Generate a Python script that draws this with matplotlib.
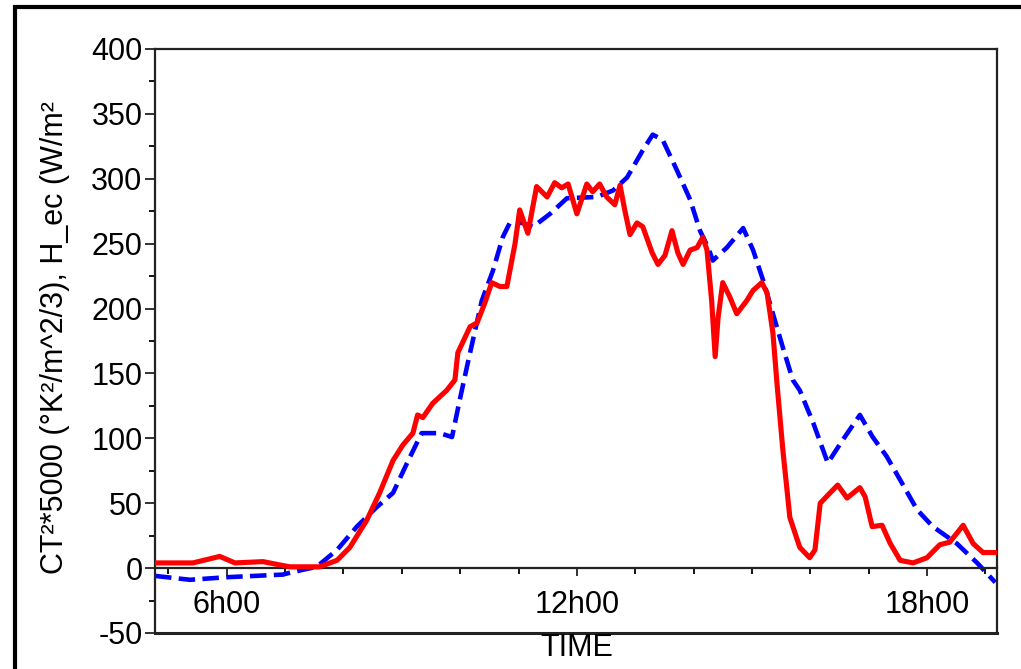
import numpy as np
import matplotlib
matplotlib.use("Agg")
import matplotlib.pyplot as plt
from matplotlib.patches import Rectangle
from matplotlib.ticker import MultipleLocator, FixedLocator

plt.rcParams['font.family'] = ['Liberation Sans', 'DejaVu Sans']
plt.rcParams['axes.unicode_minus'] = False

################### Data #####################
# time in hours, values in W/m2
ct2_time = [4.77, 5.42, 5.88, 6.14, 6.62, 6.96, 7.08, 7.59, 7.89, 8.11, 8.40, 8.62, 8.85, 9.02,
            9.19, 9.27, 9.36, 9.53, 9.77, 9.91, 9.96, 10.17, 10.29, 10.42, 10.54, 10.68, 10.80,
            10.94, 11.02, 11.16, 11.31, 11.49, 11.62, 11.74, 11.85, 12.00, 12.17, 12.27, 12.39,
            12.51, 12.65, 12.74, 12.82, 12.91, 13.03, 13.13, 13.29, 13.39, 13.51, 13.63, 13.73,
            13.82, 13.94, 14.06, 14.16, 14.23, 14.31, 14.37, 14.42, 14.50, 14.62, 14.74, 14.91,
            15.02, 15.17, 15.26, 15.36, 15.43, 15.53, 15.65, 15.82, 15.99, 16.08, 16.17, 16.34,
            16.47, 16.63, 16.85, 16.94, 17.06, 17.23, 17.37, 17.54, 17.76, 18.00, 18.22, 18.39,
            18.62, 18.79, 18.96, 19.17]
ct2_vals = [4, 4, 9, 4, 5, 2, 1, 1, 6, 16, 37, 58, 83, 95,
            104, 118, 116, 127, 137, 145, 166, 186, 189, 204, 220, 217, 217,
            250, 276, 258, 294, 286, 297, 293, 296, 273, 296, 290, 296,
            286, 280, 295, 276, 257, 266, 263, 243, 234, 241, 260, 243,
            234, 245, 247, 255, 245, 206, 163, 193, 220, 209, 196, 206,
            214, 220, 212, 181, 142, 91, 39, 16, 8, 14, 50, 58,
            64, 54, 62, 55, 32, 33, 19, 6, 4, 8, 18, 20,
            33, 19, 12, 12]

hec_time = [4.77, 5.37, 6.00, 6.96, 7.13, 7.54, 7.89, 8.23, 8.57, 8.85, 9.09, 9.34, 9.65, 9.86,
            9.99, 10.13, 10.25, 10.37, 10.56, 10.73, 10.85, 11.06, 11.25, 11.54, 11.83, 12.34,
            12.62, 12.86, 13.13, 13.30, 13.47, 13.71, 13.94, 14.11, 14.25, 14.33, 14.57, 14.85,
            15.02, 15.19, 15.36, 15.53, 15.70, 15.82, 16.05, 16.30, 16.56, 16.85, 17.07, 17.31,
            17.54, 17.83, 18.10, 18.51, 18.86, 19.17]
hec_vals = [-6, -9, -7, -5, -3, 1, 14, 32, 47, 58, 81, 104, 104, 101,
            129, 158, 182, 206, 229, 255, 266, 266, 263, 273, 285, 286,
            291, 301, 322, 334, 330, 307, 284, 260, 247, 237, 247, 262,
            245, 222, 196, 170, 145, 137, 112, 81, 99, 118, 101, 86,
            68, 45, 32, 19, 4, -11]

tick_hours = [6, 12, 18]
tick_labels = ['6h00', '12h00', '18h00']

################### Plot #####################
W, H = 1021, 669
fig = plt.figure(figsize=(W / 100, H / 100), dpi=100)
ax = fig.add_axes([155 / W, 1 - 633 / H, (997 - 155) / W, (633 - 49) / H])

ax.plot(ct2_time, ct2_vals, color='#ff0000', lw=3.7, solid_joinstyle='round', zorder=3)
ax.plot(hec_time, hec_vals, color='#0000ff', lw=3.3, dashes=(3.6, 1.6), zorder=2)

ax.set_xlim(4.77, 19.2)
ax.set_ylim(-50, 400)

# y axis
ax.yaxis.set_major_locator(MultipleLocator(50))
ax.yaxis.set_minor_locator(MultipleLocator(25))
ax.tick_params(axis='y', which='major', length=7, width=1.3, labelsize=22, pad=2, colors='#222222')
ax.tick_params(axis='y', which='minor', length=4, width=1.3)
for t in ax.get_yticklabels():
    t.set_color('black')

# x axis sits on the zero line, ticks pointing down
ax.spines['bottom'].set_position(('data', 0))
ax.xaxis.set_major_locator(FixedLocator(tick_hours))
ax.set_xticklabels(tick_labels)
ax.xaxis.set_minor_locator(MultipleLocator(1))
ax.tick_params(axis='x', which='major', length=6, width=1.3, labelsize=22, pad=10, colors='#222222')
ax.tick_params(axis='x', which='minor', length=4, width=1.3)
for t in ax.get_xticklabels():
    t.set_color('black')

for s in ['left', 'top', 'right', 'bottom']:
    ax.spines[s].set_linewidth(1.6)
    ax.spines[s].set_color('#222222')
# bottom frame line at -50
ax.axhline(-50, color='#222222', lw=2.2, clip_on=False, zorder=5)

fig.text(55 / W, 1 - 338 / H, 'CT²*5000 (°K²/m^2/3), H_ec (W/m²', rotation=90,
         ha='center', va='center', fontsize=22)
fig.text(577 / W, 1 - 648 / H, 'TIME', ha='center', va='center', fontsize=22)

# outer black frame (open to the right and bottom)
fig.add_artist(Rectangle((15 / W, -0.05), 1.1, 1 - 7 / H + 0.05, transform=fig.transFigure,
                         fill=False, lw=3, edgecolor='black'))

fig.savefig('out.png', dpi=100)
